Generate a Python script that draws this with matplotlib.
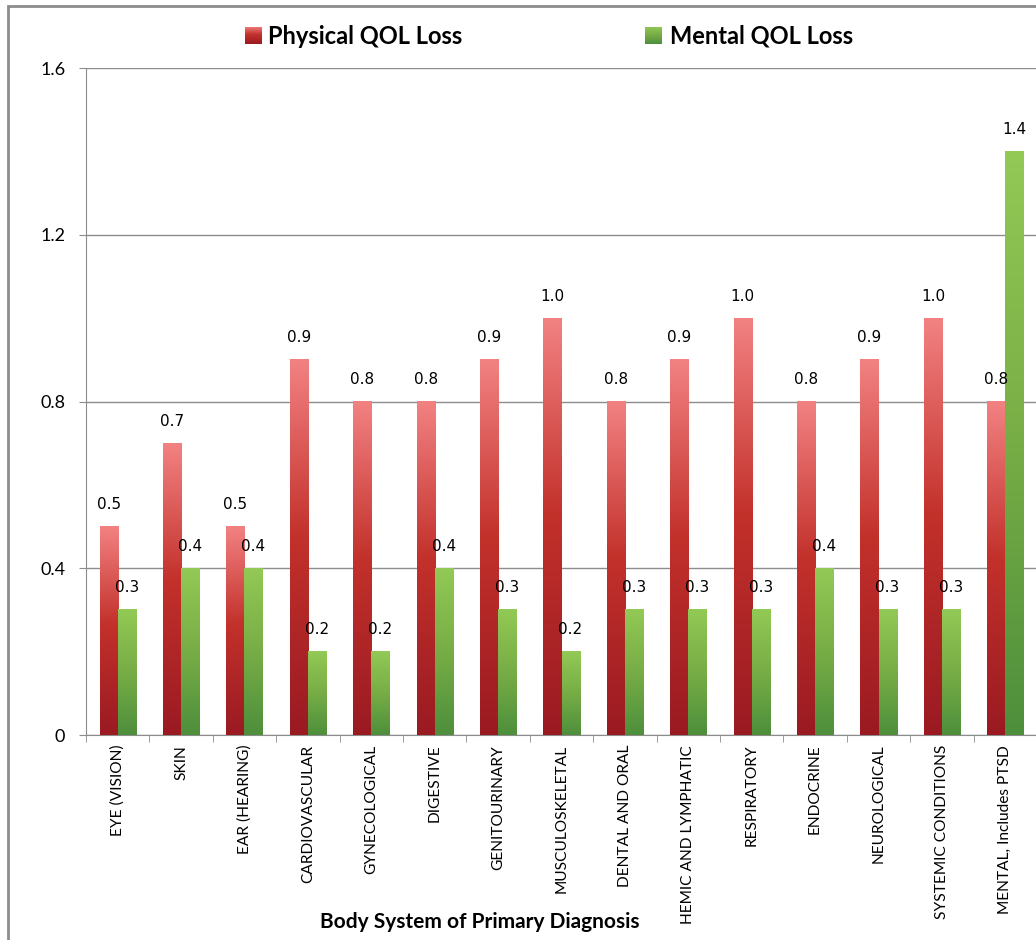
import numpy as np
import matplotlib.pyplot as plt
from matplotlib.colors import LinearSegmentedColormap
from matplotlib.patches import Rectangle

categories = ['EYE (VISION)', 'SKIN', 'EAR (HEARING)', 'CARDIOVASCULAR', 'GYNECOLOGICAL',
              'DIGESTIVE', 'GENITOURINARY', 'MUSCULOSKELETAL', 'DENTAL AND ORAL',
              'HEMIC AND LYMPHATIC', 'RESPIRATORY', 'ENDOCRINE', 'NEUROLOGICAL',
              'SYSTEMIC CONDITIONS', 'MENTAL, Includes PTSD']
physical = [0.5, 0.7, 0.5, 0.9, 0.8, 0.8, 0.9, 1.0, 0.8, 0.9, 1.0, 0.8, 0.9, 1.0, 0.8]
mental = [0.3, 0.4, 0.4, 0.2, 0.2, 0.4, 0.3, 0.2, 0.3, 0.3, 0.3, 0.4, 0.3, 0.3, 1.4]
series_names = ['Physical QOL Loss', 'Mental QOL Loss']
yticks = [0, 0.4, 0.8, 1.2, 1.6]
ytick_labels = ['0', '0.4', '0.8', '1.2', '1.6']

plt.rcParams['font.family'] = ['Lato', 'DejaVu Sans']

# vertical gradients, listed bottom -> top
red_cmap = LinearSegmentedColormap.from_list(
    'red_grad', [(0.0, '#9a1a22'), (0.53, '#c3312b'), (1.0, '#f28282')])
green_cmap = LinearSegmentedColormap.from_list(
    'green_grad', [(0.0, '#4e8f3c'), (0.5, '#77ad45'), (1.0, '#93c955')])
grad = np.linspace(0, 1, 256).reshape(-1, 1)

fig = plt.figure(figsize=(10.36, 9.4), dpi=100)
ax = fig.add_axes([0.083, 0.218, 0.918, 0.7095])

n = len(categories)
x = np.arange(n)
w = 0.285

def gradient_bar(ax, xc, h, cmap):
    x0, x1 = xc - w / 2, xc + w / 2
    ax.imshow(grad, extent=[x0, x1, 0, h], origin='lower', aspect='auto',
              cmap=cmap, zorder=3, interpolation='bilinear')

for i in range(n):
    gradient_bar(ax, x[i] - w / 2, physical[i], red_cmap)
    gradient_bar(ax, x[i] + w / 2, mental[i], green_cmap)
    ax.text(x[i] - w / 2, physical[i] + 0.035, f'{physical[i]:.1f}', ha='center',
            va='bottom', fontsize=11, family='DejaVu Sans', zorder=4)
    ax.text(x[i] + w / 2, mental[i] + 0.035, f'{mental[i]:.1f}', ha='center',
            va='bottom', fontsize=11, family='DejaVu Sans', zorder=4)

ax.set_xlim(-0.5, n - 0.5)
ax.set_ylim(0, 1.6)
ax.set_yticks(yticks)
ax.set_yticklabels(ytick_labels, fontsize=13)
ax.yaxis.grid(True, color='#8c8c8c', linewidth=1)
ax.set_axisbelow(True)

ax.set_xticks(x)
ax.set_xticklabels(categories, rotation=90, fontsize=11.2, va='top')
ax.set_xticks(np.arange(-0.5, n), minor=True)
ax.tick_params(axis='x', which='major', length=0, pad=7)
ax.tick_params(axis='x', which='minor', length=5, color='#8c8c8c')
ax.tick_params(axis='y', length=5, color='#8c8c8c', pad=10)

for s in ['top', 'right']:
    ax.spines[s].set_visible(False)
for s in ['left', 'bottom']:
    ax.spines[s].set_color('#8c8c8c')

fig.text(480 / 1036, 1 - 922 / 940, 'Body System of Primary Diagnosis', ha='center',
         va='center', fontsize=15, fontweight='bold')

# legend: gradient squares plus bold labels
for (sx, tx, cmap, label) in [(245, 268, red_cmap, series_names[0]),
                              (645, 670, green_cmap, series_names[1])]:
    lax = fig.add_axes([sx / 1036, 1 - 44 / 940, 17 / 1036, 17 / 940])
    lax.imshow(grad, origin='lower', aspect='auto', cmap=cmap)
    lax.axis('off')
    fig.text(tx / 1036, 1 - 36 / 940, label, ha='left', va='center',
             fontsize=17, fontweight='bold')

# outer chart frame
fig.patches.append(Rectangle((8 / 1036, -0.1), 1.2, 1 - 6 / 940 + 0.1,
                             transform=fig.transFigure, fill=False,
                             edgecolor='#8c8c8c', linewidth=2))

fig.savefig('out.png', dpi=100)
